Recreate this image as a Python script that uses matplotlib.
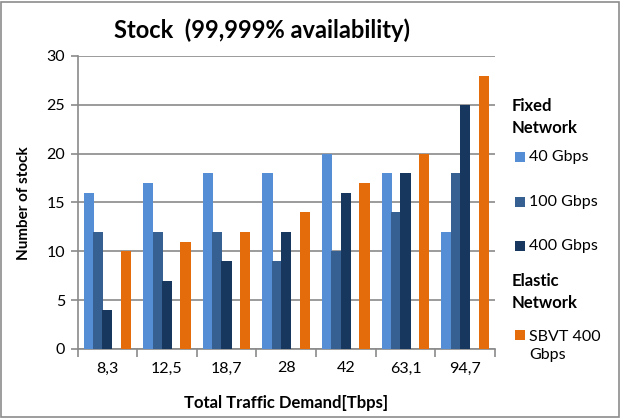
import matplotlib
matplotlib.use("Agg")
import matplotlib.pyplot as plt
from matplotlib.patches import Rectangle
import numpy as np

plt.rcParams['font.family'] = ['Lato', 'DejaVu Sans']

categories = ["8,3", "12,5", "18,7", "28", "42", "63,1", "94,7"]
fixed_40 = [16, 17, 18, 18, 20, 18, 12]
fixed_100 = [12, 12, 12, 9, 10, 14, 18]
fixed_400 = [4, 7, 9, 12, 16, 18, 25]
sbvt_400 = [10, 11, 12, 14, 17, 20, 28]

series = [
    ("40 Gbps", fixed_40, "#558ED5", 0),
    ("100 Gbps", fixed_100, "#376092", 1),
    ("400 Gbps", fixed_400, "#17375E", 2),
    ("SBVT 400 Gbps", sbvt_400, "#E46C0A", 4),
]

W, H = 621, 418
fig = plt.figure(figsize=(W / 100, H / 100), dpi=100)
fig.patches.append(Rectangle((1 / W, 1 / H), 1 - 3 / W, 1 - 3 / H, transform=fig.transFigure,
                             fill=False, edgecolor="#8c8c8c", linewidth=1.2))

ax = fig.add_axes([77.5 / W, 1 - 349 / H, (495 - 77.5) / W, (349 - 56) / H])

n = len(categories)
slots = 5
gap = 1.4
w = 1.0 / (slots + gap)
x = np.arange(n)
for label, vals, color, slot in series:
    offs = -0.5 + gap * w / 2 + slot * w + w / 2
    ax.bar(x + offs, vals, width=w * 1.1, color=color, edgecolor="none", zorder=3)

ax.set_xlim(-0.5, n - 0.5)
ax.set_ylim(0, 30)
ax.set_yticks(range(0, 31, 5))
ax.yaxis.grid(True, color="#8a8a8a", linewidth=1.2, zorder=0)
ax.set_axisbelow(True)

ax.set_xticks(np.arange(-0.5, n, 1.0))
ax.set_xticklabels([])
ax.set_xticks(x, minor=True)
ax.set_xticklabels(categories, minor=True, fontsize=11.5)
ax.tick_params(axis="x", which="minor", length=0, pad=9)
ax.tick_params(axis="x", which="major", length=6, color="#8a8a8a", width=1.2)
ax.tick_params(axis="y", length=5, color="#8a8a8a", width=1.2, labelsize=11.5, pad=4)

for s in ["top", "right"]:
    ax.spines[s].set_visible(False)
for s in ["left", "bottom"]:
    ax.spines[s].set_color("#8a8a8a")
    ax.spines[s].set_linewidth(1.2)

fig.text(262 / W, 1 - 30 / H, "Stock  (99,999% availability)", fontsize=17, fontweight="bold",
         ha="center", va="center")
fig.text(24 / W, 1 - 203 / H, "Number of stock", fontsize=11, fontweight="bold", rotation=90,
         ha="center", va="center")
fig.text(286 / W, 1 - 403 / H, "Total Traffic Demand[Tbps]", fontsize=12, fontweight="bold",
         ha="center", va="center")

# legend with group headers
lx = 512 / W
fig.text(lx, 1 - 117 / H, "Fixed\nNetwork", fontsize=12, fontweight="bold", ha="left", va="center",
         linespacing=1.45)
fig.text(lx, 1 - 292 / H, "Elastic\nNetwork", fontsize=12, fontweight="bold", ha="left", va="center",
         linespacing=1.45)
entries = [("40 Gbps", "#558ED5", 157), ("100 Gbps", "#376092", 202),
           ("400 Gbps", "#17375E", 246), ("SBVT 400\nGbps", "#E46C0A", 346)]
for text, color, yc in entries:
    first_y = yc if "\n" not in text else yc - 11
    fig.patches.append(Rectangle((515 / W, 1 - (first_y + 5) / H), 10 / W, 10 / H,
                                 transform=fig.transFigure, facecolor=color, edgecolor="none"))
    fig.text(529 / W, 1 - yc / H, text, fontsize=11.5, ha="left", va="center", linespacing=1.4)

fig.savefig("out.png", dpi=100)
